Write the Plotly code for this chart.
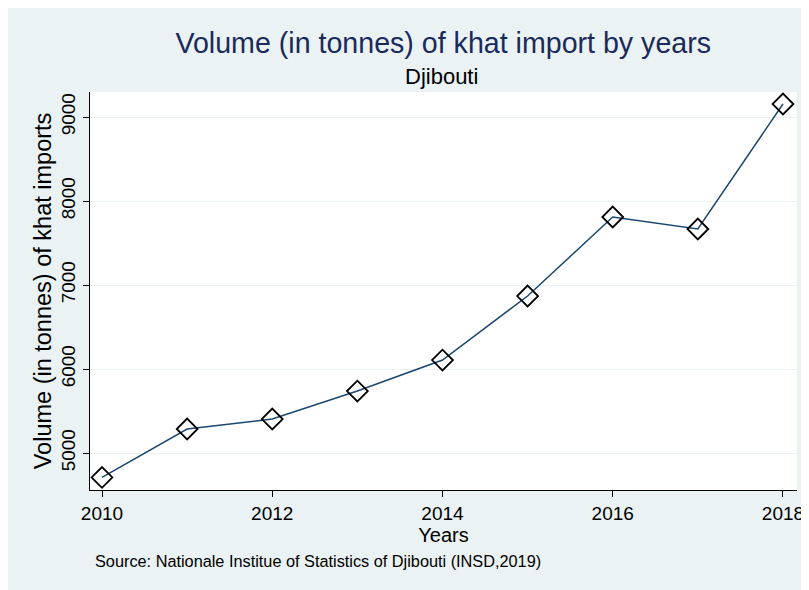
import plotly.graph_objects as go

years = [2010, 2011, 2012, 2013, 2014, 2015, 2016, 2017, 2018]
volume = [4710, 5286, 5405, 5738, 6107, 6869, 7810, 7667, 9155]
x_ticks = [2010, 2012, 2014, 2016, 2018]
y_ticks = [5000, 6000, 7000, 8000, 9000]

BG = "#EAF2F3"
FONT = "Liberation Sans, Arial, sans-serif"

fig = go.Figure()
fig.add_trace(go.Scatter(
    x=years, y=volume, mode="lines+markers",
    line=dict(color="#1a476f", width=1.5),
    marker=dict(symbol="diamond-open", size=16, color="black",
                line=dict(color="black", width=1.8)),
    showlegend=False,
))

fig.update_layout(
    width=809, height=590,
    paper_bgcolor=BG, plot_bgcolor="white",
    margin=dict(l=82, r=20, t=84, b=108),
    font=dict(family=FONT, color="black"),
    title=dict(text="Volume (in tonnes) of khat import by years",
               font=dict(size=28.6, color="#1a2a5a", family=FONT),
               x=0.538, xanchor="center", y=0.9407, yanchor="middle"),
    xaxis=dict(range=[2009.859, 2018.165], tickvals=x_ticks,
               showgrid=False, zeroline=False,
               showline=True, linecolor="black", linewidth=1,
               ticks="outside", ticklen=6, tickcolor="black",
               tickfont=dict(size=19),
               title=dict(text="Years", font=dict(size=20), standoff=1)),
    yaxis=dict(range=[4560, 9298], tickvals=y_ticks,
               showgrid=True, gridcolor=BG, gridwidth=1.2, zeroline=False,
               showline=True, linecolor="black", linewidth=1,
               ticks="outside", ticklen=6, tickcolor="black",
               tickangle=-90, tickfont=dict(size=19),
               title=dict(text="Volume (in tonnes) of khat imports",
                          font=dict(size=23.5), standoff=0)),
    annotations=[
        dict(text="Djibouti", xref="paper", yref="paper",
             x=0.5, y=1.0, xshift=-2.5, yshift=16, xanchor="center", yanchor="middle",
             showarrow=False, font=dict(size=22, color="black")),
        dict(text="Source: Nationale Institue of Statistics of Djibouti (INSD,2019)",
             xref="paper", yref="paper", x=0.0, xshift=3, y=0, yshift=-71,
             xanchor="left", yanchor="middle", showarrow=False,
             font=dict(size=16.3, color="black")),
    ],
)

fig.write_html("out.html")
